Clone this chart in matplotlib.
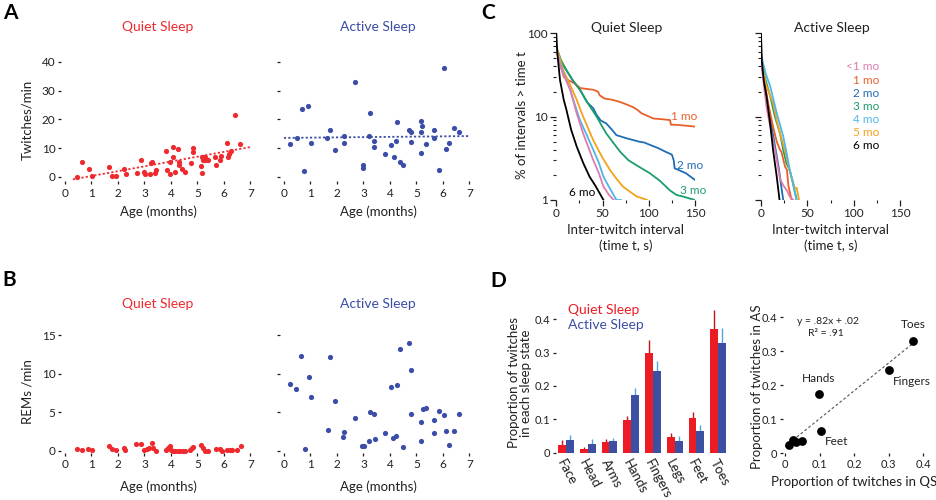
import matplotlib
matplotlib.use('Agg')
import matplotlib.pyplot as plt
import numpy as np
from matplotlib.ticker import LogLocator, NullFormatter, FixedLocator, FixedFormatter

plt.rcParams['font.family'] = ['Lato', 'DejaVu Sans']

# ---------------- data ----------------
# Panel A: twitches/min vs age (months)
qs_age_A = [0.47,0.66,0.92,1.02,1.66,1.78,1.94,2.24,2.30,2.71,2.88,3.00,3.01,3.21,3.25,3.28,3.40,3.44,3.81,3.85,
            3.97,3.97,4.07,4.07,4.17,4.27,4.29,4.31,4.41,4.53,4.74,4.83,4.83,5.13,5.17,5.18,5.21,5.23,5.30,5.27,
            5.39,5.68,5.71,5.85,5.90,6.12,6.17,6.19,6.27,6.43,6.62]
qs_twitch_A = [0.0,5.1,2.9,0.2,3.5,0.5,0.5,2.9,0.9,1.3,5.9,1.6,0.9,0.9,5.0,5.3,1.4,2.6,9.2,2.6,
               5.1,0.9,10.5,7.1,1.6,9.8,5.1,4.0,2.9,1.6,5.0,10.2,8.8,3.8,7.0,1.4,5.9,7.0,7.1,5.8,
               5.8,7.0,4.1,5.8,7.4,11.9,7.1,7.9,9.1,21.7,11.5]
as_age_A = [0.24,0.48,0.69,0.76,0.91,1.01,1.64,1.74,1.94,2.25,2.26,2.68,2.98,3.00,3.20,3.25,3.39,3.40,3.80,4.04,
            4.14,4.24,4.28,4.39,4.50,4.71,4.78,4.78,5.16,5.19,5.23,5.19,5.35,5.65,5.66,5.85,6.06,6.13,6.23,6.41,6.60]
as_twitch_A = [11.6,13.5,23.7,2.1,24.6,11.9,13.6,16.3,9.5,14.1,11.8,32.9,3.0,4.0,14.2,22.1,12.6,10.6,8.0,11.3,
               7.1,12.4,19.0,5.1,4.2,16.5,15.8,12.1,19.5,15.7,17.8,8.3,11.6,16.2,13.5,2.4,37.9,9.6,11.9,17.2,15.7]
qs_fit = (1.68, -1.34)   # slope, intercept of QS trend line
qs_fit_range = (0.3, 7.0)
as_fit = (0.09, 13.6)
as_fit_range = (0.0, 7.0)

# Panel B: REMs/min vs age
qs_age_B = [0.44,0.63,0.88,1.01,1.65,1.76,1.93,2.23,2.28,2.69,2.88,3.00,3.09,3.19,3.28,3.32,3.45,3.81,3.89,3.98,
            4.00,4.07,4.16,4.26,4.35,4.45,4.55,4.73,4.79,4.83,5.14,5.21,5.28,5.41,5.70,5.86,5.93,6.12,6.22,6.30,
            6.49,6.65]
qs_rem_B = [0.17,0.1,0.17,0.1,0.6,0.26,0.1,0.3,0.05,0.82,0.82,0.05,0.17,0.3,0.95,0.35,0.0,0.1,0.3,0.6,
            0.1,0.0,0.0,0.0,0.0,0.0,0.0,0.1,0.3,0.5,0.74,0.3,0.0,0.0,0.2,0.2,0.0,0.1,0.1,0.1,
            0.1,0.65]
as_age_B = [0.23,0.46,0.65,0.78,0.93,1.03,1.66,1.75,1.91,2.23,2.28,2.68,2.96,3.03,3.20,3.24,3.40,3.43,3.81,4.04,
            4.13,4.22,4.28,4.40,4.50,4.71,4.78,4.78,5.16,5.19,5.24,5.35,5.65,5.66,5.84,6.06,6.13,6.23,6.41,6.60]
as_rem_B = [8.6,8.0,12.3,0.2,9.6,7.0,2.65,12.2,6.4,1.8,2.4,4.2,0.65,0.65,1.2,5.0,4.8,1.5,2.35,8.2,
            1.6,1.9,8.5,13.2,0.43,14.0,10.5,4.8,3.7,1.3,5.35,5.6,2.3,4.0,5.2,4.65,2.5,0.8,2.5,4.7]

# Panel C: survival curves (% of intervals > t)
age_groups = ['<1 mo', '1 mo', '2 mo', '3 mo', '4 mo', '5 mo', '6 mo']
group_colors = ['#E07BB0', '#E8602A', '#1F6DB5', '#1A9E6A', '#4DB6E8', '#F5A21B', '#000000']

qs_t_lt1 = [0,5,15,22,29,35,40,46,51,57,62]
qs_p_lt1 = [63,38,21,11,6.3,4.2,3.0,2.1,1.45,1.15,1.0]
qs_t_1 = [0,4,8,14,20,26,33,40,45,47,52,60,69,76,83,88,92,105,115,123,124,128,140,150]
qs_p_1 = [63,45,30,27,25,22,21.5,21,20,18,16.5,16,15,14,13,12,11,9.5,9.3,9.1,8.0,8.0,7.8,7.6]
qs_t_2 = [0,5,11,18,25.6,33,40,43.6,48,54,60,65,76,90,95,101,110,118,125,127,128,140,150]
qs_p_2 = [63,45,36,27,21,15,12.6,10.5,9,8.3,7,6.0,5.5,5.0,4.9,4.6,4.2,3.8,3.5,3.0,2.4,2.1,1.74]
qs_t_3 = [0,5,11,18,25.6,35,43.6,50,54,62,69,78,87,95,101,112,123,130,137,150]
qs_p_3 = [69,48,36,27,21,14,10,7.5,6.3,4.8,3.8,3.0,2.6,2.3,2.1,1.7,1.3,1.15,1.1,1.0]
qs_t_4 = [0,5,15,20,25.6,33,40,46,51,56,62,65,70]
qs_p_4 = [63,40,21,14,9.1,6,4.0,2.8,1.9,1.5,1.15,1.0,1.0]
qs_t_5 = [0,7.6,15,22,29,35,40,50,58,65,72,80,87,93,98]
qs_p_5 = [69,36,24,16,10,7,5.2,3.2,2.3,1.8,1.45,1.25,1.1,1.05,1.0]
qs_t_6 = [0,1,4,8,11,16,22,29,36,42,47,51]
qs_p_6 = [100,60,27.5,16,12,7,4.4,2.8,1.9,1.5,1.2,1.0]

as_t_lt1 = [0,3,6,10,15,18,20.5,24,28,31,35]
as_p_lt1 = [50,24,13,7.5,4,2.6,1.8,1.5,1.3,1.1,1.0]
as_t_1 = [0,4,8,13,17,20.5,22,26,28,29.5,33]
as_p_1 = [50,25,14,7.6,5,4,3.8,2.5,2.3,1.5,1.0]
as_t_2 = [0,4,8,11.5,15,19,21,24]
as_p_2 = [50,24,13,7.6,4.5,2.5,1.7,1.0]
as_t_3 = [0,4,10,15,20.5,24,27.7,31,35,38.5]
as_p_3 = [50,30,17.5,10,6.3,4,2.7,2.3,1.5,1.0]
as_t_4 = [0,5,10,17,24,28,31,34,36.7,38.5]
as_p_4 = [55,33,23,11,5.8,3.5,2.3,1.7,1.2,1.0]
as_t_5 = [0,5,13,17,20.5,27,31,35,36,38.5,41]
as_p_5 = [50,25,14.5,9,6.3,3.5,2.2,1.6,1.4,1.4,1.0]
as_t_6 = [0,1,3,6,10,13,17,20]
as_p_6 = [100,45,27,17.5,8,4,1.9,1.0]

# Panel D: body-part proportions
body_parts = ['Face', 'Head', 'Arms', 'Hands', 'Fingers', 'Legs', 'Feet', 'Toes']
qs_prop = [0.024, 0.012, 0.032, 0.097, 0.300, 0.048, 0.104, 0.370]
qs_err = [0.014, 0.006, 0.008, 0.014, 0.038, 0.010, 0.017, 0.058]
as_prop = [0.038, 0.025, 0.034, 0.174, 0.245, 0.036, 0.066, 0.330]
as_err = [0.016, 0.015, 0.010, 0.019, 0.030, 0.013, 0.018, 0.044]
reg_slope, reg_int = 0.82, 0.02
reg_range = (0.0, 0.38)
labelled_parts = ['Toes', 'Fingers', 'Hands', 'Feet']

# ---------------- style ----------------
RED = '#EE2A2F'
BLUE = '#3B4DA6'
BAR_RED = '#EC1C24'
BAR_BLUE = '#3D4FA3'
ERR_RED = '#C0141C'
ERR_BLUE = '#4FA6DE'
TXT = '#231F20'

W, H = 937, 500
fig = plt.figure(figsize=(W / 100, H / 100), dpi=100)


def ax_px(l, t, r, b):
    return fig.add_axes([l / W, 1 - b / H, (r - l) / W, (b - t) / H])


def ftext(x, y, s, **kw):
    kw.setdefault('color', TXT)
    kw.setdefault('ha', 'center')
    kw.setdefault('va', 'center')
    return fig.text(x / W, 1 - y / H, s, **kw)


def strip(ax):
    for s in ax.spines.values():
        s.set_visible(False)


def style_age_axis(ax, yt, ylabels):
    strip(ax)
    ax.set_xlim(-0.15, 7.1)
    ax.set_xticks(range(8))
    ax.set_yticks(yt)
    if not ylabels:
        ax.set_yticklabels([])
    ax.tick_params(axis='both', length=2.5, width=0.9, pad=2, labelsize=8.5, colors=TXT)
    ax.tick_params(axis='y', pad=1.5)


# Panel A
axA1 = ax_px(61, 56.25, 253, 181.3)
axA1.scatter(qs_age_A, qs_twitch_A, s=14, color=RED, linewidths=0, zorder=3)
xf = np.array(qs_fit_range)
axA1.plot(xf, qs_fit[0] * xf + qs_fit[1], color=RED, ls=(0, (1.2, 1.2)), lw=1.3)
axA1.set_ylim(-1.5, 42)
style_age_axis(axA1, [0, 10, 20, 30, 40], True)

axA2 = ax_px(280, 56.25, 472, 181.3)
axA2.scatter(as_age_A, as_twitch_A, s=14, color=BLUE, linewidths=0, zorder=3)
xf = np.array(as_fit_range)
axA2.plot(xf, as_fit[0] * xf + as_fit[1], color=BLUE, ls=(0, (1.2, 1.2)), lw=1.3)
axA2.set_ylim(-1.5, 42)
style_age_axis(axA2, [0, 10, 20, 30, 40], False)

# Panel B
axB1 = ax_px(61, 327.3, 253, 453)
axB1.scatter(qs_age_B, qs_rem_B, s=14, color=RED, linewidths=0, zorder=3)
axB1.set_ylim(-0.3, 16)
style_age_axis(axB1, [0, 5, 10, 15], True)

axB2 = ax_px(280, 327.3, 472, 453)
axB2.scatter(as_age_B, as_rem_B, s=14, color=BLUE, linewidths=0, zorder=3)
axB2.set_ylim(-0.3, 16)
style_age_axis(axB2, [0, 5, 10, 15], False)

ftext(10, 13, 'A', fontsize=15, fontweight='bold', color='black')
ftext(9, 280, 'B', fontsize=15, fontweight='bold', color='black')
ftext(488, 13, 'C', fontsize=15, fontweight='bold', color='black')
ftext(498, 281, 'D', fontsize=15, fontweight='bold', color='black')

for y in (27, 304):
    ftext(158, y, 'Quiet Sleep', fontsize=10, color=RED)
    ftext(378, y, 'Active Sleep', fontsize=10, color=BLUE)
for y in (212, 487):
    ftext(158, y, 'Age (months)', fontsize=9.5)
    ftext(378, y, 'Age (months)', fontsize=9.5)
ftext(27.5, 120, 'Twitches/min', fontsize=9.5, rotation=90)
ftext(27.5, 392, 'REMs /min', fontsize=9.5, rotation=90)

# Panel C
qs_curves_t = [qs_t_lt1, qs_t_1, qs_t_2, qs_t_3, qs_t_4, qs_t_5, qs_t_6]
qs_curves_p = [qs_p_lt1, qs_p_1, qs_p_2, qs_p_3, qs_p_4, qs_p_5, qs_p_6]
as_curves_t = [as_t_lt1, as_t_1, as_t_2, as_t_3, as_t_4, as_t_5, as_t_6]
as_curves_p = [as_p_lt1, as_p_1, as_p_2, as_p_3, as_p_4, as_p_5, as_p_6]


def style_surv(ax, ylabels):
    strip(ax)
    ax.set_yscale('log')
    ax.set_xlim(0, 150)
    ax.set_ylim(1, 100)
    ax.set_xticks([0, 50, 100, 150])
    ax.xaxis.set_minor_locator(FixedLocator([25, 75, 125]))
    ax.yaxis.set_major_locator(FixedLocator([1, 10, 100]))
    ax.yaxis.set_minor_locator(LogLocator(base=10, subs=np.arange(2, 10)))
    ax.yaxis.set_minor_formatter(NullFormatter())
    if ylabels:
        ax.yaxis.set_major_formatter(FixedFormatter(['1', '10', '100']))
    else:
        ax.yaxis.set_major_formatter(NullFormatter())
    ax.tick_params(axis='both', which='major', length=4, width=0.9, pad=2, labelsize=8.5, colors=TXT)
    ax.tick_params(axis='both', which='minor', length=2.5, width=0.8, colors=TXT)


axC1 = ax_px(556.3, 33.3, 695, 200)
draw_order = [2, 1, 3, 5, 4, 0, 6]
for i in draw_order:
    axC1.plot(qs_curves_t[i], qs_curves_p[i], color=group_colors[i], lw=1.3, zorder=3)
style_surv(axC1, True)

axC2 = ax_px(761, 33.3, 900, 200)
for i in draw_order:
    axC2.plot(as_curves_t[i], as_curves_p[i], color=group_colors[i], lw=1.3, zorder=3)
style_surv(axC2, False)

ftext(626.5, 28, 'Quiet Sleep', fontsize=10)
ftext(831.5, 28, 'Active Sleep', fontsize=10)
ftext(522, 115, '% of intervals > time t', fontsize=9.5, rotation=90)
for cx in (625.5, 831):
    ftext(cx, 230, 'Inter-twitch interval', fontsize=9.5)
    ftext(cx, 246, '(time t, s)', fontsize=9.5)

ftext(684, 117, '1 mo', fontsize=8.5, color=group_colors[1])
ftext(690, 165, '2 mo', fontsize=8.5, color=group_colors[2])
ftext(693, 191, '3 mo', fontsize=8.5, color=group_colors[3])
ftext(582, 193, '6 mo', fontsize=8.5, color=group_colors[6])
for k, lab in enumerate(age_groups):
    ftext(879, 67 + k * 13.1, lab, fontsize=8.5, color=group_colors[k], ha='right')

# Panel D bars
axD1 = ax_px(556, 307.6, 728, 452.7)
strip(axD1)
x = np.arange(len(body_parts))
bw = 0.36
axD1.bar(x - bw / 2, qs_prop, bw, color=BAR_RED, zorder=2)
axD1.bar(x + bw / 2, as_prop, bw, color=BAR_BLUE, zorder=2)
axD1.errorbar(x - bw / 2, qs_prop, yerr=[np.zeros(len(x)), qs_err], fmt='none',
              ecolor=ERR_RED, elinewidth=1.0, capsize=0, zorder=1)
axD1.errorbar(x + bw / 2, as_prop, yerr=[np.zeros(len(x)), as_err], fmt='none',
              ecolor=ERR_BLUE, elinewidth=1.0, capsize=0, zorder=1)
axD1.set_xlim(-0.46, 7.45)
axD1.set_ylim(0, 0.435)
axD1.set_yticks([0, 0.1, 0.2, 0.3, 0.4])
axD1.set_yticklabels(['0', '0.1', '0.2', '0.3', '0.4'])
axD1.set_xticks(x)
axD1.set_xticklabels(body_parts, rotation=-62, ha='left', va='top', rotation_mode='anchor')
axD1.tick_params(axis='y', length=2.5, width=0.9, pad=1.5, labelsize=8, colors=TXT)
axD1.tick_params(axis='x', length=0, pad=3, labelsize=9.5, colors=TXT)

ftext(568, 310, 'Quiet Sleep', fontsize=10, color=BAR_RED, ha='left')
ftext(568, 325, 'Active Sleep', fontsize=10, color=BAR_BLUE, ha='left')
ftext(520, 383, 'Proportion of twitches\nin each sleep state', fontsize=9.5, rotation=90,
      multialignment='center', linespacing=1.05)

# Panel D scatter
axD2 = ax_px(783, 310.5, 930.3, 453.3)
strip(axD2)
axD2.scatter(qs_prop, as_prop, s=40, color='black', zorder=3, linewidths=0)
xr = np.array(reg_range)
axD2.plot(xr, reg_slope * xr + reg_int, color='#555555', lw=0.8, ls=(0, (2.5, 2.0)), zorder=1)
axD2.set_xlim(-0.006, 0.42)
axD2.set_ylim(0, 0.42)
ticks = [0, 0.1, 0.2, 0.3, 0.4]
tlabs = ['0', '0.1', '0.2', '0.3', '0.4']
axD2.set_xticks(ticks)
axD2.set_xticklabels(tlabs)
axD2.set_yticks(ticks)
axD2.set_yticklabels(tlabs)
axD2.tick_params(axis='both', length=2.5, width=0.9, pad=1.5, labelsize=8, colors=TXT)
offsets = {'Toes': (0, 8, 'center', 'bottom'), 'Fingers': (3, -4, 'left', 'top'),
           'Hands': (0, 7, 'center', 'bottom'), 'Feet': (3, -4, 'left', 'top')}
for name in labelled_parts:
    i = body_parts.index(name)
    dx, dy, ha, va = offsets[name]
    axD2.annotate(name, (qs_prop[i], as_prop[i]), xytext=(dx, dy), textcoords='offset points',
                  ha=ha, va=va, fontsize=8.5, color=TXT)
ftext(828, 321, 'y = .82x + .02', fontsize=7.5)
ftext(826, 333.5, 'R\u00b2 = .91', fontsize=7.5)
ftext(757.5, 387, 'Proportion of twitches in AS', fontsize=9.5, rotation=90)
ftext(854, 482, 'Proportion of twitches in QS', fontsize=9.5)

fig.savefig('out.png', dpi=100)
